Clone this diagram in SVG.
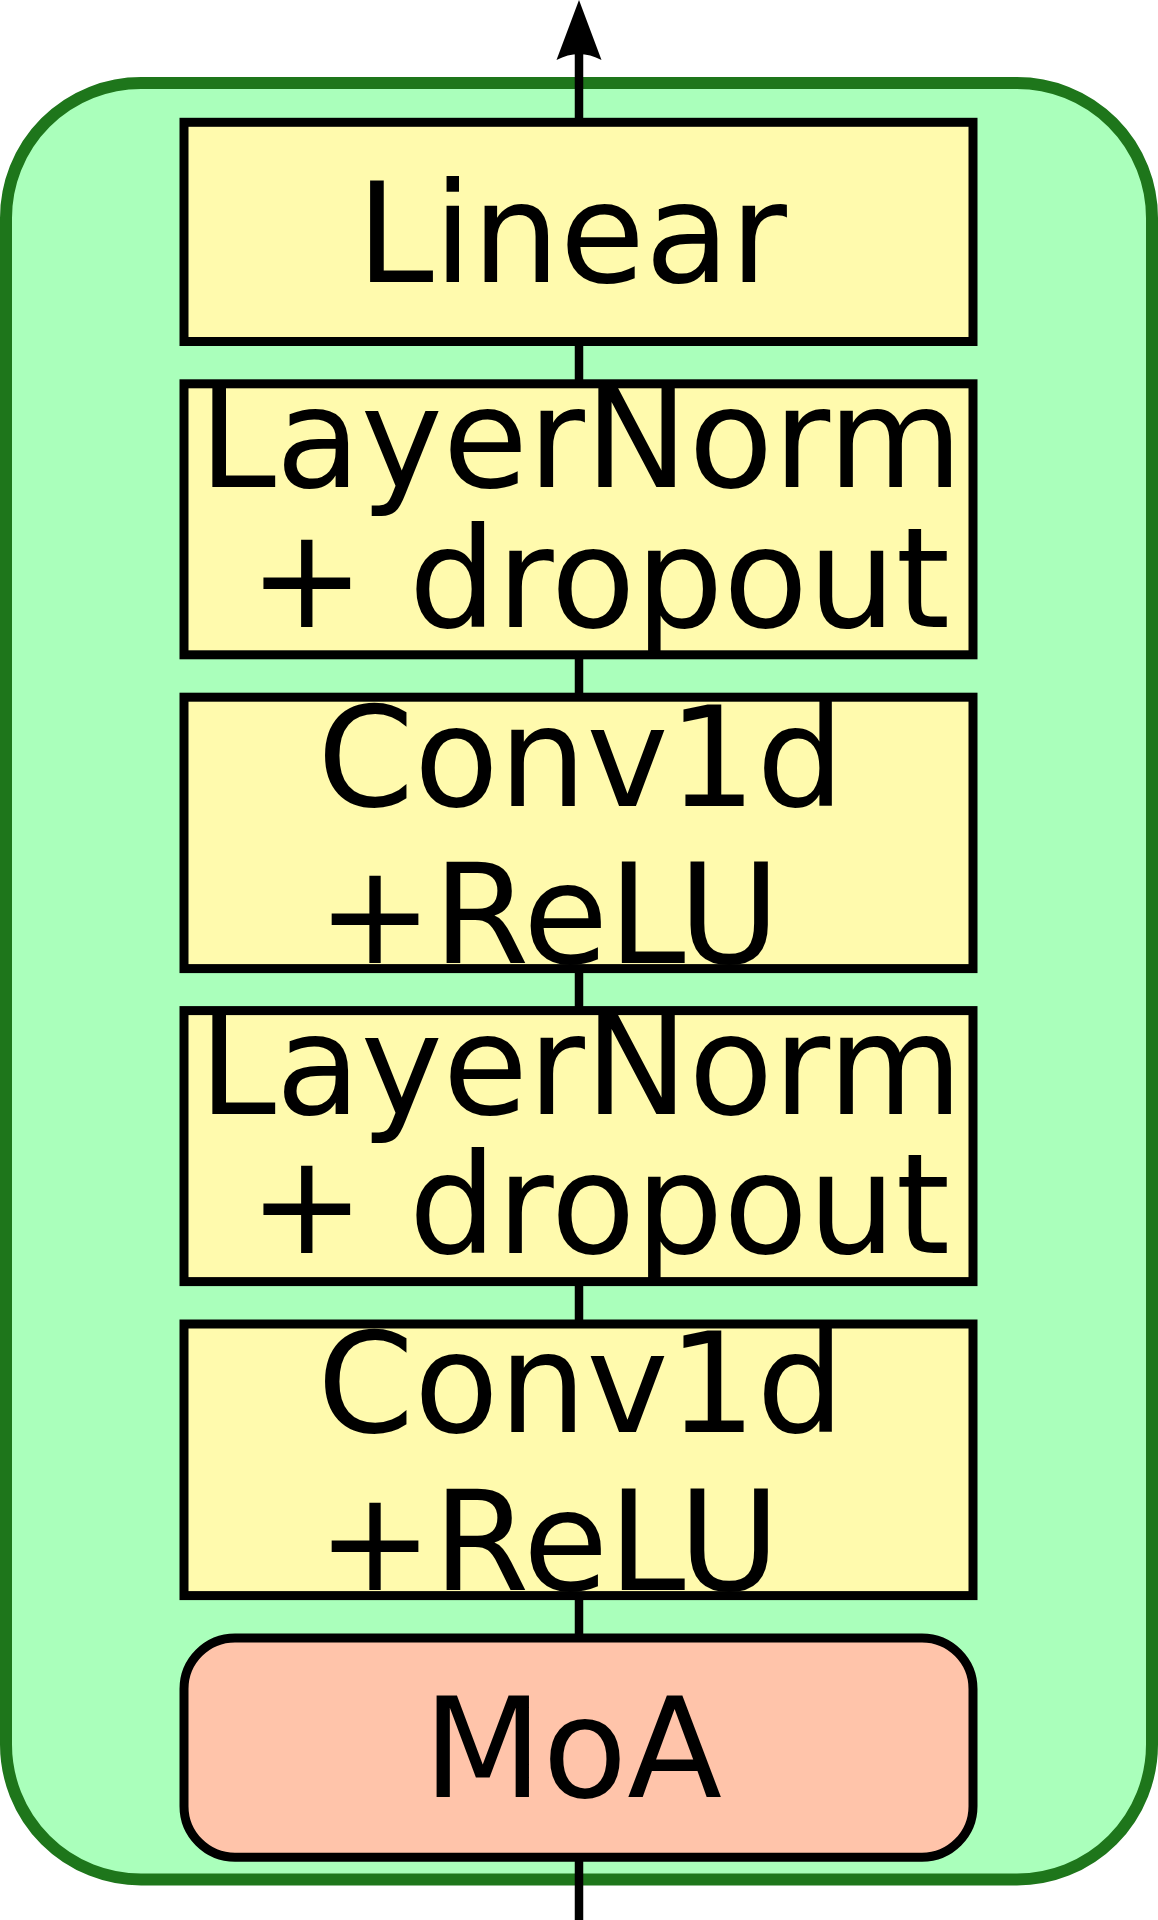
<svg xmlns="http://www.w3.org/2000/svg" width="1158" height="1920" viewBox="0 0 1158 1920">
  <style>
    .box { fill: #fffaad; stroke: #000000; stroke-width: 9; }
    .moa { fill: #ffc4aa; stroke: #000000; stroke-width: 9; }
    .outer { fill: #aaffbb; stroke: #1e761b; stroke-width: 12; }
    .conn { stroke: #000000; stroke-width: 8.5; fill: none; }
    .lbl { font-family: "DejaVu Sans", "Liberation Sans", sans-serif; font-size: 138.5px; fill: #000000; }
  </style>
  <defs>
    <marker id="arrow" markerUnits="userSpaceOnUse" orient="auto" refX="10" refY="0" markerWidth="62" markerHeight="46" overflow="visible">
      <path d="M60,0 L0,-22.5 Q12,0 0,22.5 Z" fill="#000000"/>
    </marker>
  </defs>

  <g id="container">
    <rect class="outer" x="6" y="83" width="1146" height="1796.5" rx="135" ry="135"/>
  </g>

  <g id="connectors">
    <line class="conn" x1="579" y1="1920" x2="579" y2="1857"/>
    <line class="conn" x1="579" y1="1638" x2="579" y2="1595"/>
    <line class="conn" x1="579" y1="1324" x2="579" y2="1281"/>
    <line class="conn" x1="579" y1="1011" x2="579" y2="968"/>
    <line class="conn" x1="579" y1="697" x2="579" y2="654"/>
    <line class="conn" x1="579" y1="384" x2="579" y2="341"/>
    <line class="conn" x1="579" y1="122" x2="579" y2="50" marker-end="url(#arrow)"/>
  </g>

  <g id="linear">
    <rect class="box" x="184" y="122.3" width="789" height="219.2"/>
    <text class="lbl" x="356.4" y="281.7">Linear</text>
  </g>

  <g id="layernorm1">
    <rect class="box" x="184" y="383.8" width="789" height="271"/>
    <text class="lbl" x="198.7" y="487">LayerNorm</text>
    <text class="lbl" x="248.8" y="626.5">+ dropout</text>
  </g>

  <g id="conv1">
    <rect class="box" x="184" y="697.2" width="789" height="271.4"/>
    <text class="lbl" x="317.2" y="805.5">Conv1d</text>
    <text class="lbl" x="317" y="963">+ReLU</text>
  </g>

  <g id="layernorm2">
    <rect class="box" x="184" y="1010.6" width="789" height="271"/>
    <text class="lbl" x="198.7" y="1113.8">LayerNorm</text>
    <text class="lbl" x="248.8" y="1253.3">+ dropout</text>
  </g>

  <g id="conv2">
    <rect class="box" x="184" y="1324" width="789" height="271.6"/>
    <text class="lbl" x="317.2" y="1432.3">Conv1d</text>
    <text class="lbl" x="317" y="1589.8">+ReLU</text>
  </g>

  <g id="moa">
    <rect class="moa" x="184" y="1638" width="789" height="219.2" rx="51" ry="51"/>
    <text class="lbl" x="423.1" y="1797.3">MoA</text>
  </g>
</svg>
